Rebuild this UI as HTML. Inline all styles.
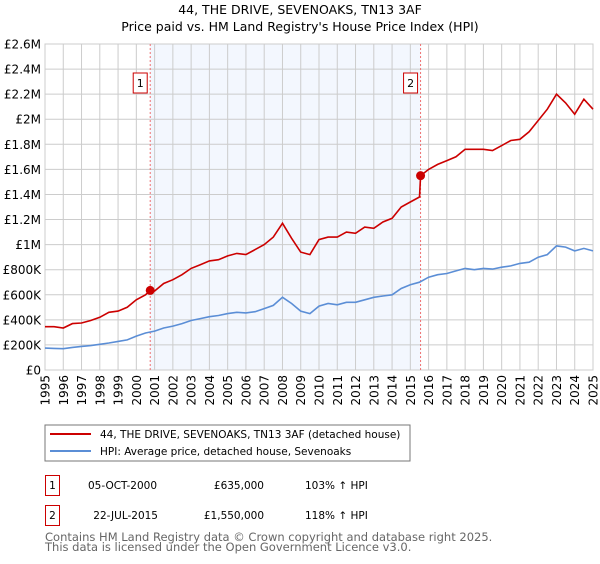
<!DOCTYPE html>
<html><head><meta charset="utf-8"><style>
body{margin:0;background:#fff;font-family:"DejaVu Sans","Liberation Sans",sans-serif;}
svg text{font-family:"DejaVu Sans","Liberation Sans",sans-serif;}
</style></head><body>
<svg id="chart" width="600" height="560" xmlns="http://www.w3.org/2000/svg">
<text x="300" y="14" text-anchor="middle" font-size="12.5">44, THE DRIVE, SEVENOAKS, TN13 3AF</text>
<text x="300" y="31" text-anchor="middle" font-size="12.5">Price paid vs. HM Land Registry's House Price Index (HPI)</text>
<g id="plot"></g>
<rect x="45" y="425" width="365" height="36" fill="#fff" stroke="#777"/>
<line x1="50" y1="434" x2="91" y2="434" stroke="#cc0000" stroke-width="2"/>
<text x="100" y="438" font-size="10.5">44, THE DRIVE, SEVENOAKS, TN13 3AF (detached house)</text>
<line x1="50" y1="451" x2="91" y2="451" stroke="#5b8ed6" stroke-width="2"/>
<text x="100" y="455" font-size="10.5">HPI: Average price, detached house, Sevenoaks</text>
<g>
<rect x="45.5" y="475.5" width="14" height="20" fill="none" stroke="#cc0000"/>
<text x="52.5" y="489" text-anchor="middle" font-size="10.5">1</text>
<text x="157" y="489" text-anchor="end" font-size="10.5">05-OCT-2000</text>
<text x="264" y="489" text-anchor="end" font-size="10.5">£635,000</text>
<text x="305" y="489" font-size="10.5">103% ↑ HPI</text>
</g>
<g>
<rect x="45.5" y="505.5" width="14" height="20" fill="none" stroke="#cc0000"/>
<text x="52.5" y="519" text-anchor="middle" font-size="10.5">2</text>
<text x="158" y="519" text-anchor="end" font-size="10.5">22-JUL-2015</text>
<text x="264" y="519" text-anchor="end" font-size="10.5">£1,550,000</text>
<text x="305" y="519" font-size="10.5">118% ↑ HPI</text>
</g>
<text x="45" y="541" font-size="11.5" fill="#666">Contains HM Land Registry data © Crown copyright and database right 2025.</text>
<text x="45" y="551" font-size="11.5" fill="#666">This data is licensed under the Open Government Licence v3.0.</text>
</svg>
<script>
const yTicks=[0,200,400,600,800,1000,1200,1400,1600,1800,2000,2200,2400,2600];
const yTickLabels=["£0","£200K","£400K","£600K","£800K","£1M","£1.2M","£1.4M","£1.6M","£1.8M","£2M","£2.2M","£2.4M","£2.6M"];
const xYears=[1995,1996,1997,1998,1999,2000,2001,2002,2003,2004,2005,2006,2007,2008,2009,2010,2011,2012,2013,2014,2015,2016,2017,2018,2019,2020,2021,2022,2023,2024,2025];
const hpiDates=[1995,1995.5,1996,1996.5,1997,1997.5,1998,1998.5,1999,1999.5,2000,2000.5,2001,2001.5,2002,2002.5,2003,2003.5,2004,2004.5,2005,2005.5,2006,2006.5,2007,2007.5,2008,2008.5,2009,2009.5,2010,2010.5,2011,2011.5,2012,2012.5,2013,2013.5,2014,2014.5,2015,2015.5,2016,2016.5,2017,2017.5,2018,2018.5,2019,2019.5,2020,2020.5,2021,2021.5,2022,2022.5,2023,2023.5,2024,2024.5,2025];
const hpiValues=[175,172,170,180,188,195,205,215,228,240,270,295,310,335,350,370,395,410,425,435,450,460,455,465,490,515,580,530,470,450,510,530,520,540,540,560,580,590,600,650,680,700,740,760,770,790,810,800,810,805,820,830,850,860,900,920,990,980,950,970,950];
const priceDates=[1995,1995.5,1996,1996.5,1997,1997.5,1998,1998.5,1999,1999.5,2000,2000.5,2000.76,2001,2001.5,2002,2002.5,2003,2003.5,2004,2004.5,2005,2005.5,2006,2006.5,2007,2007.5,2008,2008.5,2009,2009.5,2010,2010.5,2011,2011.5,2012,2012.5,2013,2013.5,2014,2014.5,2015,2015.5,2015.56,2016,2016.5,2017,2017.5,2018,2018.5,2019,2019.5,2020,2020.5,2021,2021.5,2022,2022.5,2023,2023.5,2024,2024.5,2025];
const priceValues=[345,345,335,370,375,395,420,460,470,500,560,600,635,630,690,720,760,810,840,870,880,910,930,920,960,1000,1060,1170,1050,940,920,1040,1060,1060,1100,1090,1140,1130,1180,1210,1300,1340,1380,1550,1600,1640,1670,1700,1760,1760,1760,1750,1790,1830,1840,1900,1990,2080,2200,2130,2040,2160,2080];
const saleLabels=["1","2"];
const saleDates=[2000.76,2015.56];
const salePrices=[635,1550];

const X0=45,X1=593,Y0=370,Y1=44;
const xs=d=>X0+(d-1995)/30*(X1-X0);
const ys=v=>Y0-v/2600*(Y0-Y1);
const NS="http://www.w3.org/2000/svg";
const g=document.getElementById('plot');
function mk(t,a,p){const e=document.createElementNS(NS,t);for(const k in a)e.setAttribute(k,a[k]);(p||g).appendChild(e);return e;}
const shade=mk('rect',{x:xs(saleDates[0]),y:Y1,width:xs(saleDates[1])-xs(saleDates[0]),height:Y0-Y1,fill:'#f3f7fe'});


yTicks.forEach((t,i)=>{
 const l=mk('line',{x1:X0,x2:X1,y1:ys(t),y2:ys(t),stroke:'#ccc','stroke-width':1});
 
 
 const tx=mk('text',{x:X0-4,y:ys(t)+4.5,'text-anchor':'end','font-size':12});
 tx.textContent=yTickLabels[i];
 
 
});
xYears.forEach(y=>{
 const l=mk('line',{x1:xs(y),x2:xs(y),y1:Y1,y2:Y0,stroke:'#ccc','stroke-width':1});
 
 
 const tx=mk('text',{x:0,y:0,'text-anchor':'end','font-size':12,transform:`translate(${xs(y)+4.5},375) rotate(-90)`});
 tx.textContent=y;
 
 
});
const frame=mk('rect',{x:X0,y:Y1,width:X1-X0,height:Y0-Y1,fill:'none',stroke:'#ccc'});


saleDates.forEach((d,i)=>{
 const l=mk('line',{x1:xs(d),x2:xs(d),y1:Y1,y2:Y0,stroke:'#f07070','stroke-dasharray':'2,2'});
 
 
});
function path(ds,vs,c,name){
 const p=mk('path',{d:ds.map((d,i)=>(i?'L':'M')+xs(d).toFixed(1)+','+ys(vs[i]).toFixed(1)).join(''),fill:'none',stroke:c,'stroke-width':1.6});
 
 
}
path(hpiDates,hpiValues,'#5b8ed6','hpi-line');
path(priceDates,priceValues,'#cc0000','property-price-line');
saleDates.forEach((d,i)=>{
 const c=mk('circle',{cx:xs(d),cy:ys(salePrices[i]),r:4.5,fill:'#cc0000'});
 
 
 const bx=xs(d)-10;
 const r=mk('rect',{x:bx-7,y:73,width:14,height:20,fill:'#fff',stroke:'#cc0000'});
 
 
 const t=mk('text',{x:bx,y:87,'text-anchor':'middle','font-size':11});
 t.textContent=saleLabels[i];
 
 
});
</script>
</body></html>
